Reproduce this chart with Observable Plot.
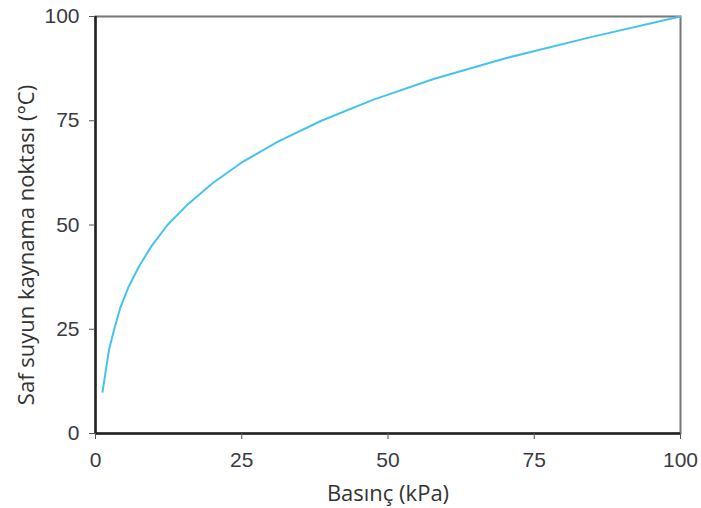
<!DOCTYPE html>
<html>
<head>
<meta charset="utf-8">
<script src="https://cdn.jsdelivr.net/npm/d3@7"></script>
<script src="https://cdn.jsdelivr.net/npm/@observablehq/plot@0.6"></script>
<style>
  html, body { margin: 0; padding: 0; background: #fff; }
  #chart { width: 701px; height: 508px; }
  #chart g[aria-label="x-axis tick label"] text,
  #chart g[aria-label="y-axis tick label"] text,
  #chart g[aria-label="x-axis tick label"],
  #chart g[aria-label="y-axis tick label"] { font-size: 21px !important; font-family: "Liberation Sans", Arial, sans-serif !important; fill: #3a3a45; }
  #chart g[aria-label="x-axis label"] text,
  #chart g[aria-label="x-axis label"],
  #chart g.ylab text,
  #chart g.ylab { font-size: 22px !important; font-family: "Open Sans", sans-serif !important; fill: #333; }
</style>
</head>
<body>
<div id="chart"></div>
<script>
const pressure = [1.2, 2.3, 3.2, 4.2, 5.6, 7.4, 9.6, 12.3, 15.8, 20, 25, 31.2, 38.6, 47.4, 57.8, 70.1, 84.5, 100];
const boilingPoint = [10, 20, 25, 30, 35, 40, 45, 50, 55, 60, 65, 70, 75, 80, 85, 90, 95, 100];
const xTicks = [0, 25, 50, 75, 100];
const yTicks = [0, 25, 50, 75, 100];
const xLabel = "Basınç (kPa)";
const yLabel = "Saf suyun kaynama noktası (°C)";

const data = pressure.map((p, i) => ({p, t: boilingPoint[i]}));

const chart = Plot.plot({
  width: 701,
  height: 508,
  marginLeft: 95,
  marginRight: 21,
  marginTop: 16,
  marginBottom: 75,
  style: {fontFamily: "Liberation Sans, Arial, sans-serif", color: "#333", background: "#fff"},
  x: {domain: [0, 100]},
  y: {domain: [0, 100]},
  marks: [
    Plot.frame({stroke: "#777", strokeWidth: 2}),
    Plot.ruleX([0], {stroke: "#222", strokeWidth: 2.5}),
    Plot.ruleY([0], {stroke: "#222", strokeWidth: 2.5}),
    Plot.axisX({ticks: xTicks, tickSize: 6, tickPadding: 13, label: xLabel, labelAnchor: "center", labelArrow: "none", labelOffset: 67, stroke: "#555"}),
    Plot.axisY({ticks: yTicks, tickSize: 6, tickPadding: 10, label: null, stroke: "#555"}),
    Plot.text([yLabel], {frameAnchor: "left", rotate: -90, dx: -69, dy: 20, text: d => d, textAnchor: "middle", lineAnchor: "middle", className: "ylab"}),
    Plot.line(data, {x: "p", y: "t", stroke: "#45c3f0", strokeWidth: 2})
  ]
});
document.getElementById("chart").append(chart);
</script>
</body>
</html>
